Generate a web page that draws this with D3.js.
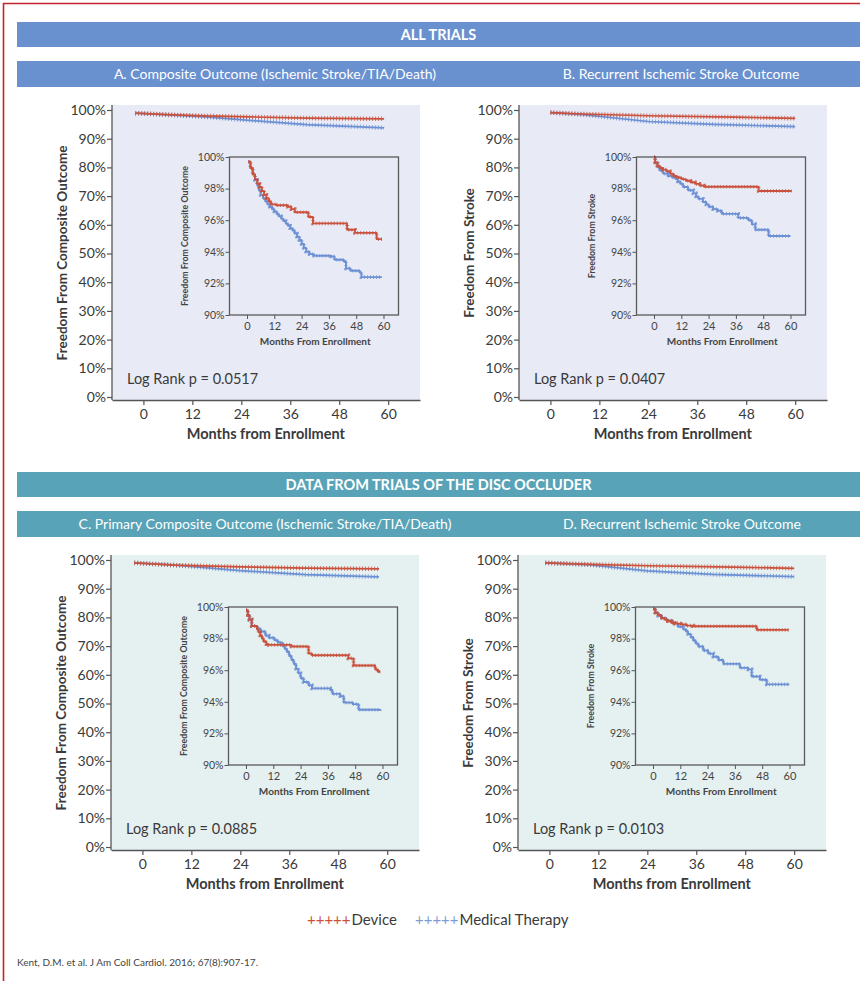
<!DOCTYPE html>
<html><head><meta charset="utf-8">
<script src="https://cdn.jsdelivr.net/npm/d3@7"></script>
<style>
body{margin:0;background:#fff}
svg{display:block}
text{font-family:Lato,"Open Sans",sans-serif}
</style>
</head><body>
<svg id="c" width="860" height="981"></svg>
<script>
// ---------- DATA ----------
const xTicks = [0, 12, 24, 36, 48, 60];
const yTicksMain = [0, 10, 20, 30, 40, 50, 60, 70, 80, 90, 100];
const yTicksInset = [90, 92, 94, 96, 98, 100];

const sectionTitles = ["ALL TRIALS", "DATA FROM TRIALS OF THE DISC OCCLUDER"];
const panelTitles = [
  "A. Composite Outcome (Ischemic Stroke/TIA/Death)",
  "B. Recurrent Ischemic Stroke Outcome",
  "C. Primary Composite Outcome (Ischemic Stroke/TIA/Death)",
  "D. Recurrent Ischemic Stroke Outcome"
];
const mainYTitles = ["Freedom From Composite Outcome", "Freedom From Stroke", "Freedom From Composite Outcome", "Freedom From Stroke"];
const insetYTitles = mainYTitles;
const pValues = ["0.0517", "0.0407", "0.0885", "0.0103"];
const seriesNames = ["Device", "Medical Therapy"];

// main plots (month, % free)
const mainA_device  = [[-2, 98.9], [6, 98.4], [15, 97.95], [26, 97.6], [40, 97.2], [59, 96.9]];
const mainA_medical = [[-2, 98.9], [6, 98.3], [15, 97.6], [26, 96.4], [40, 94.9], [59, 93.8]];
const mainB_device  = [[0, 99.1], [8, 98.6], [24, 98.0], [45, 97.5], [60, 97.1]];
const mainB_medical = [[0, 99.1], [8, 98.4], [24, 96.0], [40, 95.0], [60, 94.2]];
const mainC_device  = [[-2, 99.0], [8, 98.2], [24, 97.6], [40, 97.2], [58, 96.9]];
const mainC_medical = [[-2, 99.0], [8, 98.2], [24, 96.3], [40, 94.9], [58, 94.1]];
const mainD_device  = [[-1, 99.0], [10, 98.5], [24, 98.0], [45, 97.5], [60, 97.1]];
const mainD_medical = [[-1, 99.0], [10, 98.3], [24, 96.2], [40, 95.0], [60, 94.2]];

// insets (Kaplan-Meier steps: month, % free)
const insetA_device = [[0.6,99.7],[1.5,99.3],[2.5,98.9],[3.5,98.6],[4.5,98.3],[5.5,98.1],[6.5,97.85],[7.5,97.6],[8.5,97.4],[9.5,97.2],[10.5,97.0],[13,96.95],[18,96.85],[19.5,96.7],[21,96.5],[27,96.2],[29,95.8],[44,95.4],[47.5,95.2],[57,94.8],[59.3,94.8]];
const insetA_medical = [[0.6,99.7],[1.5,99.3],[2.5,98.9],[3.5,98.55],[4.5,98.2],[5.2,97.9],[6,97.6],[7,97.4],[8,97.2],[9,97.0],[10,96.85],[11,96.7],[12,96.55],[13,96.4],[14,96.25],[15,96.1],[16,95.95],[17,95.8],[18,95.65],[19,95.5],[20,95.35],[21,95.15],[22,94.95],[23,94.75],[24,94.5],[25,94.25],[26,94.0],[27.5,93.85],[29.5,93.75],[37,93.7],[38.5,93.5],[42.5,93.4],[43.5,92.95],[45.5,92.8],[49.5,92.7],[50.3,92.4],[59.3,92.4]];
const insetB_device = [[0,100],[0.5,99.65],[1.5,99.45],[2.5,99.3],[4,99.2],[5.5,99.1],[7,98.95],[8.5,98.8],[10,98.7],[12,98.6],[14,98.5],[16,98.4],[18,98.3],[20,98.2],[22,98.12],[46,97.85],[60.5,97.85]];
const insetB_medical = [[0,100],[0.5,99.6],[1.5,99.35],[2.5,99.15],[4,98.95],[6,98.8],[8,98.7],[9.5,98.6],[10.5,98.45],[11.5,98.3],[12.8,98.1],[15,97.9],[17.3,97.7],[18.5,97.5],[19.5,97.35],[21.5,97.15],[23,97.0],[24,96.85],[26,96.7],[28,96.6],[29.8,96.4],[37,96.15],[41.5,96.0],[43,95.75],[44.5,95.4],[50.4,95.0],[60,95.0]];
const insetC_device = [[0,99.8],[0.8,99.5],[1.5,99.2],[2.5,98.8],[4.8,98.6],[5.5,98.4],[6.3,98.2],[7,98.0],[7.8,97.8],[9,97.65],[10,97.6],[20,97.5],[27.5,97.05],[29,96.95],[45,96.75],[47.3,96.3],[56.8,96.05],[58,95.9],[59,95.9]];
const insetC_medical = [[0,99.8],[0.8,99.5],[1.5,99.2],[2.5,98.8],[4.8,98.65],[6.3,98.45],[8.5,98.2],[10,98.05],[12.5,97.9],[14,97.75],[16,97.55],[17,97.35],[18,97.15],[19,96.9],[20,96.65],[21,96.4],[22,96.1],[23,95.8],[24,95.5],[25.3,95.25],[27.5,95.05],[29,94.85],[37,94.75],[38,94.5],[41.5,94.35],[43,93.95],[47,93.85],[49.5,93.5],[59,93.45]];
const insetD_device = [[0,99.9],[1,99.65],[2,99.5],[3.5,99.3],[5,99.2],[6.5,99.1],[8,99.0],[9.6,98.95],[12,98.9],[14.7,98.82],[17.6,98.78],[45.6,98.55],[59.6,98.55]];
const insetD_medical = [[0,99.9],[1,99.65],[2.2,99.45],[4,99.3],[5.9,99.15],[8.8,98.95],[11,98.75],[13.2,98.6],[14.5,98.45],[15.4,98.3],[16.5,98.1],[17.6,97.9],[18.7,97.7],[19.9,97.5],[22.1,97.25],[24.3,97.05],[26.5,96.85],[28.7,96.65],[30.9,96.4],[38.2,96.15],[41.9,96.05],[43.4,95.6],[47,95.4],[50,95.1],[59.6,95.05]];

const citation = "Kent, D.M. et al. J Am Coll Cardiol. 2016; 67(8):907-17.";

// ---------- STYLE ----------
const RED = "#c9523d", BLUE = "#6c90d4";
const sectionColors = ["#6990cf", "#58a3b7"];
const panelBg = ["#e8eaf6", "#e5f0f1"];
const TXT = "#3a3a3a";

const panels = [
  {dx:0,   dy:0,   title:panelTitles[0], tx:275, yt:mainYTitles[0], it:insetYTitles[0], p:pValues[0], md:mainA_device, mm:mainA_medical, id:insetA_device, im:insetA_medical, s:0},
  {dx:407, dy:0,   title:panelTitles[1], tx:681, yt:mainYTitles[1], it:insetYTitles[1], p:pValues[1], md:mainB_device, mm:mainB_medical, id:insetB_device, im:insetB_medical, s:0},
  {dx:-1,  dy:450, title:panelTitles[2], tx:265, yt:mainYTitles[2], it:insetYTitles[2], p:pValues[2], md:mainC_device, mm:mainC_medical, id:insetC_device, im:insetC_medical, s:1},
  {dx:406, dy:450, title:panelTitles[3], tx:682, yt:mainYTitles[3], it:insetYTitles[3], p:pValues[3], md:mainD_device, mm:mainD_medical, id:insetD_device, im:insetD_medical, s:1}
];

const svg = d3.select("#c");

// border
svg.append("line").attr("x1",3).attr("x2",860).attr("y1",3.5).attr("y2",3.5).attr("stroke","#c3232b").attr("stroke-width",1.6);
svg.append("line").attr("x1",3.5).attr("x2",3.5).attr("y1",3).attr("y2",981).attr("stroke","#c3232b").attr("stroke-width",1.6);

// section bars
sectionTitles.forEach((t,i)=>{
  const oy = i*450;
  svg.append("rect").attr("x",17).attr("y",22+oy).attr("width",843).attr("height",25).attr("fill",sectionColors[i]);
  svg.append("text").attr("x",438.5).attr("y",39.5+oy).attr("text-anchor","middle").attr("fill","#fff")
     .attr("font-size",14.5).attr("font-weight","bold").text(t);
  svg.append("rect").attr("x",17).attr("y",61+oy).attr("width",843).attr("height",26).attr("fill",sectionColors[i]);
});

function drawCurve(g, data, x, y, color, curve, w, dashW){
  const line = d3.line().x(d=>x(d[0])).y(d=>y(d[1])).curve(curve);
  g.append("path").attr("d",line(data)).attr("fill","none").attr("stroke",color).attr("stroke-width",w).attr("stroke-linejoin","round");
  g.append("path").attr("d",line(data)).attr("fill","none").attr("stroke",color).attr("stroke-width",dashW)
   .attr("stroke-dasharray","0.9,2.1").attr("opacity",0.85);
}

panels.forEach(P=>{
  const g = svg.append("g");
  const dx = P.dx, dy = P.dy;
  // panel header text
  g.append("text").attr("x",P.tx).attr("y",79+dy).attr("text-anchor","middle").attr("fill","#fff")
   .attr("font-size",14).text(P.title);

  const x = d3.scaleLinear().domain([-7.7, 67.8]).range([112+dx, 420+dx]);
  const y = d3.scaleLinear().domain([0, 100]).range([397+dy, 110+dy]);

  g.append("rect").attr("x",112+dx).attr("y",105+dy).attr("width",308).attr("height",295).attr("fill",panelBg[P.s]);

  // y axis
  const ya = g.append("g").attr("transform",`translate(${112+dx},0)`)
    .call(d3.axisLeft(y).tickValues(yTicksMain).tickFormat(d=>d+"%").tickSize(5).tickPadding(1).tickSizeOuter(0));
  ya.select(".domain").remove();
  ya.append("line").attr("x1",0).attr("x2",0).attr("y1",105+dy).attr("y2",400+dy).attr("stroke","#555").attr("stroke-width",1.3);
  ya.selectAll(".tick line").attr("stroke","#555").attr("stroke-width",1.2);
  ya.selectAll(".tick text").attr("font-size",14).attr("fill",TXT).attr("font-family","Lato");

  // x axis
  const xa = g.append("g").attr("transform",`translate(0,${400+dy})`)
    .call(d3.axisBottom(x).tickValues(xTicks).tickSize(5).tickPadding(4).tickSizeOuter(0));
  xa.select(".domain").attr("stroke","#555").attr("stroke-width",1.3);
  xa.selectAll(".tick line").attr("stroke","#555").attr("stroke-width",1.2);
  xa.selectAll(".tick text").attr("font-size",14).attr("fill",TXT).attr("font-family","Lato");

  g.append("text").attr("x",(x(0)+x(60))/2).attr("y",439+dy).attr("text-anchor","middle")
   .attr("font-size",14.5).attr("font-weight","bold").attr("fill",TXT).text("Months from Enrollment");
  g.append("text").attr("transform",`translate(${67+dx},${253+dy}) rotate(-90)`).attr("text-anchor","middle")
   .attr("font-size",13.5).attr("font-weight","bold").attr("fill",TXT).text(P.yt);
  g.append("text").attr("x",127+dx).attr("y",384+dy).attr("font-size",14.5).attr("fill",TXT).text("Log Rank p = "+P.p);

  // main curves
  drawCurve(g, P.mm, x, y, BLUE, d3.curveLinear, 1.7, 4.5);
  drawCurve(g, P.md, x, y, RED, d3.curveLinear, 1.7, 4.5);

  // inset
  const bx0 = 229.5+dx, bx1 = 398.5+dx, by0 = 157+dy, by1 = 315+dy;
  const ix = d3.scaleLinear().domain([-7.7, 66.6]).range([bx0, bx1]);
  const iy = d3.scaleLinear().domain([90, 100]).range([by1, by0]);
  const ig = g.append("g");
  const iya = ig.append("g").attr("transform",`translate(${bx0},0)`)
    .call(d3.axisLeft(iy).tickValues(yTicksInset).tickFormat(d=>d+"%").tickSize(4).tickPadding(1).tickSizeOuter(0));
  iya.select(".domain").remove();
  iya.selectAll(".tick line").attr("stroke","#555");
  iya.selectAll(".tick text").attr("font-size",10.5).attr("fill","#444").attr("font-family","Lato");
  const ixa = ig.append("g").attr("transform",`translate(0,${by1})`)
    .call(d3.axisBottom(ix).tickValues(xTicks).tickSize(4).tickPadding(3).tickSizeOuter(0));
  ixa.select(".domain").remove();
  ixa.selectAll(".tick line").attr("stroke","#555");
  ixa.selectAll(".tick text").attr("font-size",11).attr("fill","#444").attr("font-family","Lato");
  ig.append("text").attr("x",(ix(0)+ix(60))/2).attr("y",345+dy).attr("text-anchor","middle")
    .attr("font-size",10).attr("font-weight","bold").attr("fill","#444").text("Months From Enrollment");
  ig.append("text").attr("transform",`translate(${bx0-42},${(by0+by1)/2}) rotate(-90)`).attr("text-anchor","middle")
    .attr("font-size",8.8).attr("font-weight","bold").attr("fill","#444").text(P.it);

  drawCurve(ig, P.im, ix, iy, BLUE, d3.curveStepAfter, 1.9, 3.6);
  drawCurve(ig, P.id, ix, iy, RED, d3.curveStepAfter, 1.9, 3.6);

  ig.append("rect").attr("x",bx0).attr("y",by0).attr("width",bx1-bx0).attr("height",by1-by0)
    .attr("fill","none").attr("stroke","#5a5a5a").attr("stroke-width",1.3);
});

// legend
const lg = svg.append("g").attr("font-size",15);
const legendX = [307, 415];
[RED, "#7f9dd2"].forEach((c,i)=>{
  const t = lg.append("text").attr("x",legendX[i]).attr("y",925);
  t.append("tspan").attr("fill",c).text("+++++");
  t.append("tspan").attr("fill",TXT).attr("dx",1).text(seriesNames[i]);
});

svg.append("text").attr("x",17).attr("y",966).attr("font-size",10).attr("fill","#444").text(citation);
</script>
</body></html>
